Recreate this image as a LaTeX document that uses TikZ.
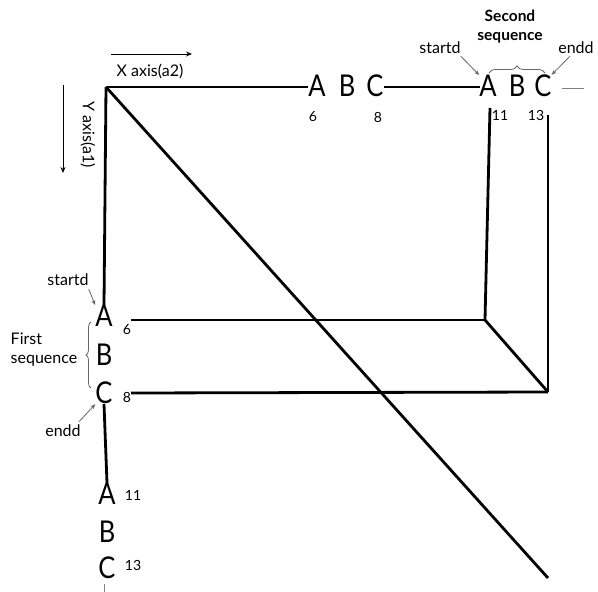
\documentclass[tikz,border=0pt]{standalone}
\usepackage{fontspec}
\setmainfont{Lato}
\usetikzlibrary{decorations.pathreplacing,arrows.meta}
\begin{document}
\begin{tikzpicture}[x=1pt,y=-1pt,
  big/.style={font=\fontsize{30}{30}\selectfont, inner sep=0pt, xscale=0.85},
  num/.style={font=\fontsize{14}{14}\selectfont, inner sep=0pt},
  lbl/.style={font=\fontsize{16}{19}\selectfont, inner sep=0pt},
  heavy/.style={line width=2.8pt},
  pointer/.style={gray!80!black, line width=0.8pt, -{Stealth[length=5pt,width=4pt]}},
  axisarrow/.style={line width=0.9pt, -{Stealth[length=6pt,width=5pt]}},
  curly/.style={gray!80!black, line width=0.8pt, decorate, decoration={brace, amplitude=5pt}},
  faint/.style={gray, line width=0.8pt}
]
\fill[white] (0,0) rectangle (598,592);
\useasboundingbox (0,0) rectangle (598,592);

% corner and box corners
\coordinate (o) at (106,87);
\coordinate (p1) at (485,320);
\coordinate (p2) at (548,392);
\coordinate (dend) at (548,578);
\coordinate (q1) at (490,108);
\coordinate (q2) at (548,115);
\coordinate (h1) at (131,320);
\coordinate (h2) at (131,393);

% top row letters
\node[big] (tA1) at (317,86) {A};
\node[big] (tB1) at (347,86) {B};
\node[big] (tC1) at (375,86) {C};
\node[num] (t6) at (313,117) {6};
\node[num] (t8) at (378,117) {8};
\node[big] (tA2) at (488,86) {A};
\node[big] (tB2) at (517,86) {B};
\node[big] (tC2) at (543,86) {C};
\node[num] (t11) at (500,115) {11};
\node[num] (t13) at (536,115) {13};
\coordinate (tend) at (480,87);

% left column letters
\node[big] (lA1) at (104,316) {A};
\node[big] (lB1) at (104,355) {B};
\node[big] (lC1) at (104,393) {C};
\node[num] (l6) at (127,330) {6};
\node[num] (l8) at (127,397) {8};
\node[big] (lA2) at (107,494) {A};
\node[big] (lB2) at (107,532) {B};
\node[big] (lC2) at (107,568) {C};
\node[num] (l11) at (133,495) {11};
\node[num] (l13) at (133,565) {13};

% heavy lines
\draw[heavy] (o) -- (tA1.west |- o);
\draw[heavy] (tC1.east |- o) -- (tend);
\draw[heavy] (o) -- (lA1.north);
\draw[heavy] (lC1.south) -- (lA2.north);
\draw[heavy] (o) -- (dend);
\draw[heavy] (q1) -- (p1);
\draw[heavy] (q2) -- (p2);
\draw[heavy] (h1) -- (p1);
\draw[heavy] (h2) -- (p2);
\draw[heavy] (p1) -- (p2);

% small grey ticks
\coordinate (g1) at (562,88);
\coordinate (g2) at (584,88);
\draw[faint] (g1) -- (g2);
\coordinate (g3) at (104,584);
\coordinate (g4) at (104,592);
\draw[faint] (g3) -- (g4);

% axes
\coordinate (xa1) at (111,54);
\coordinate (xa2) at (192,54);
\draw[axisarrow] (xa1) -- (xa2);
\node[lbl] (xlab) at (150,71) {X axis(a2)};
\coordinate (ya1) at (63,85);
\coordinate (ya2) at (63,173);
\draw[axisarrow] (ya1) -- (ya2);
\node[lbl, rotate=-90] (ylab) at (88,135) {Y axis(a1)};

% first sequence annotations
\node[lbl] (st1) at (68,280) {startd};
\draw[pointer] (st1.south east) ++(0,3) -- (lA1.north west);
\node[lbl, align=left] (fs) at (44,350) {First\\sequence};
\coordinate (b1a) at (91,388);
\coordinate (b1b) at (91,322);
\draw[curly] (b1a) -- (b1b);
\node[lbl] (en1) at (63,431) {endd};
\draw[pointer] (en1.north east) ++(-2,-3) -- (lC1.south west);

% second sequence annotations
\node[lbl, font=\bfseries\fontsize{15.5}{19}\selectfont, align=center] (ss) at (510,27) {Second\\sequence};
\node[lbl] (st2) at (440,48) {startd};
\draw[pointer] (st2.south east) ++(0,2) -- (tA2.north west);
\node[lbl] (en2) at (576,48) {endd};
\draw[pointer] (en2.south) ++(-6,2) -- (tC2.north east);
\coordinate (b2a) at (489,73);
\coordinate (b2b) at (545,73);
\draw[curly, decoration={brace, amplitude=7pt}] (b2a) -- (b2b);
\end{tikzpicture}
\end{document}
